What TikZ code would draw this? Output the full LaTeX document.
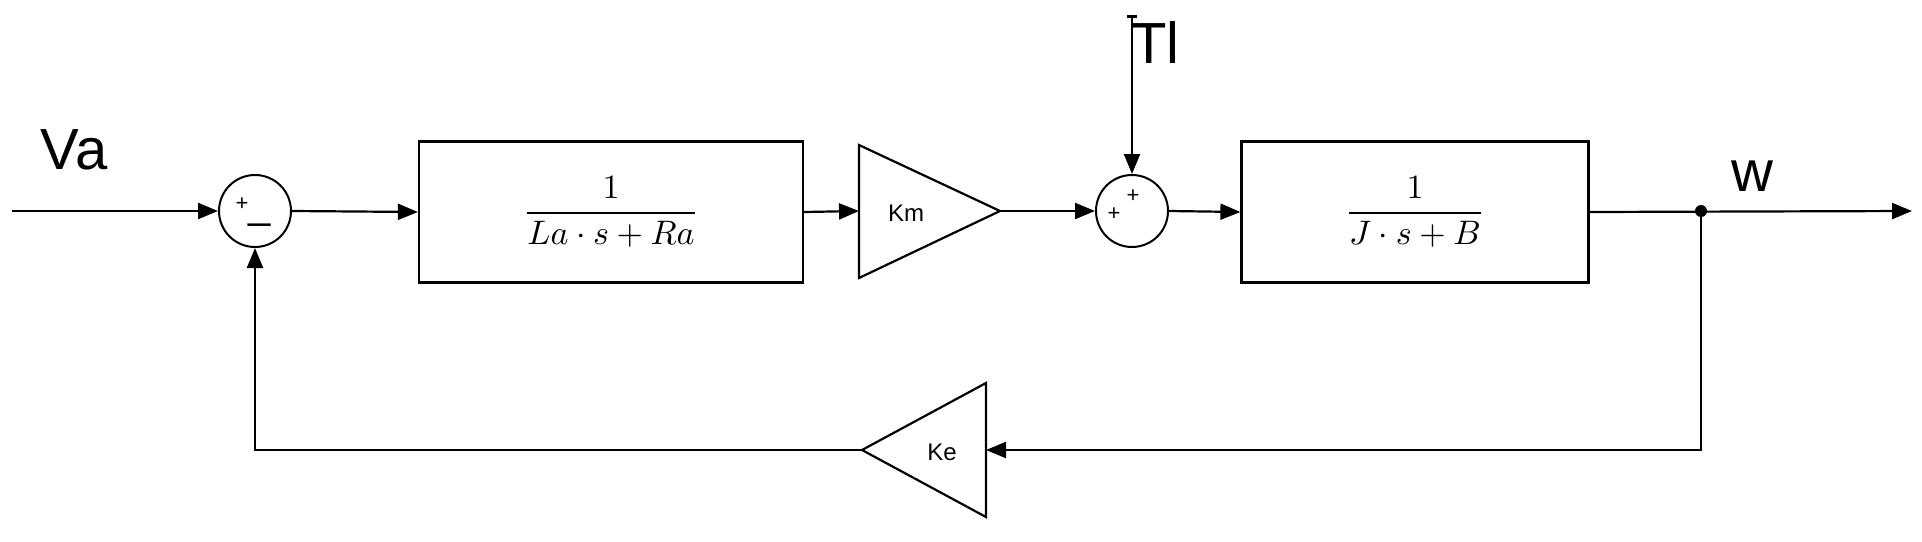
\documentclass[tikz,border=0pt]{standalone}
\usepackage{fontspec}
\setmainfont{Liberation Sans}
\usetikzlibrary{arrows.meta}
\begin{document}
\begin{tikzpicture}[x=1pt,y=-1pt,
  line width=2.2pt,
  arr/.style={-{Triangle[length=20pt,width=16pt]}},
  blk/.style={draw,fill=white,line width=2.2pt},
  sumc/.style={draw,circle,minimum size=72pt,inner sep=0pt,line width=2pt},
  lbl/.style={font=\fontsize{58}{60}\selectfont},
  sgn/.style={font=\fontsize{22}{22}\selectfont}]
\useasboundingbox (0,0) rectangle (1922,541);
\coordinate (in) at (12,211);
\node[sumc] (s1) at (255,211) {};
\node[sgn] at (242,204) {+};
\node[font=\fontsize{40}{40}\selectfont] at (260,222) {\_};
\node[blk,minimum width=384pt,minimum height=141pt] (b1) at (611,212) {};
\node[scale=3.4] at (611,212) {$\displaystyle\frac{1}{La\cdot s+Ra}$};
\draw[fill=white] (859,145) -- (1000,211) -- (859,278) -- cycle;
\coordinate (kmin) at (859,211);
\coordinate (kmout) at (1000,211);
\node[font=\fontsize{24}{24}\selectfont] at (906,213) {Km};
\node[sumc] (s2) at (1132,211) {};
\node[sgn] at (1114,214) {+};
\node[sgn] at (1133,196) {+};
\node[blk,minimum width=347pt,minimum height=141pt] (b2) at (1415,212) {};
\node[scale=3.4] at (1415,212) {$\displaystyle\frac{1}{J\cdot s+B}$};
\coordinate (br) at (1701,211);
\coordinate (out) at (1912,211);
\coordinate (tl) at (1132,16);
\node[lbl,anchor=west] at (1127,42) {Tl};
\node[lbl] at (74,150) {Va};
\node[lbl] at (1752,176) {w};
\draw[fill=white] (986,383) -- (862,450) -- (986,517) -- cycle;
\coordinate (kein) at (986,450);
\coordinate (keout) at (862,450);
\node[font=\fontsize{24}{24}\selectfont] at (942,452) {Ke};
\coordinate (fbl) at (255,450);
\coordinate (fbr) at (1701,450);
\draw[line width=3pt] (1127,16) -- (1137,16);
\draw[arr] (in) -- (s1.west);
\draw[arr] (s1.east) -- (b1.west);
\draw[arr] (b1.east) -- (kmin);
\draw[arr] (kmout) -- (s2.west);
\draw[arr] (tl) -- (s2.north);
\draw[arr] (s2.east) -- (b2.west);
\draw[arr] (b2.east) -- (out);
\fill (br) circle (6pt);
\draw[arr] (br) -- (fbr) -- (kein);
\draw[arr] (keout) -- (fbl) -- (s1.south);
\end{tikzpicture}
\end{document}
